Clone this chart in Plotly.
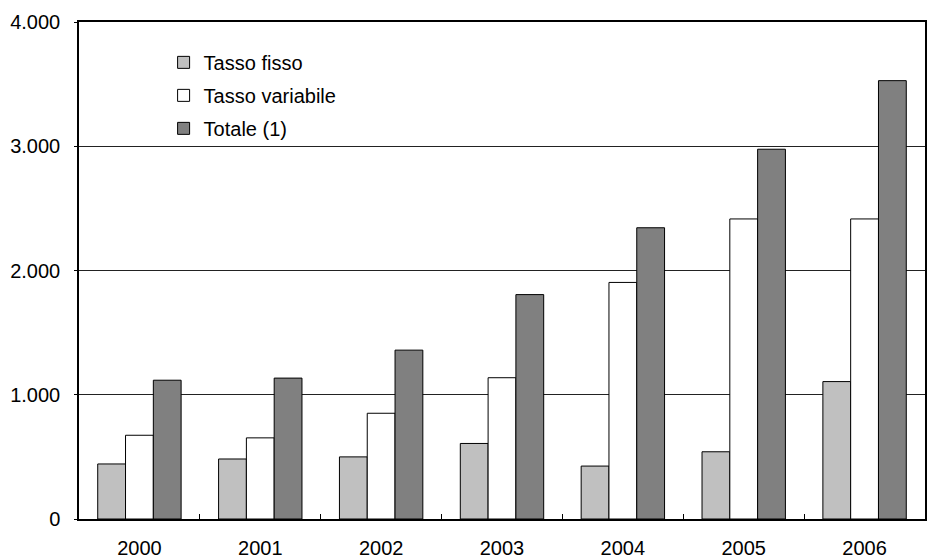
import plotly.graph_objects as go

years = ["2000", "2001", "2002", "2003", "2004", "2005", "2006"]
tasso_fisso = [443, 483, 500, 608, 426, 541, 1106]
tasso_variabile = [674, 653, 851, 1137, 1904, 2415, 2415]
totale = [1117, 1134, 1359, 1806, 2344, 2976, 3528]

series = [
    ("Tasso fisso", tasso_fisso, "#C0C0C0"),
    ("Tasso variabile", tasso_variabile, "#FFFFFF"),
    ("Totale (1)", totale, "#808080"),
]

fig = go.Figure()
for i, (name, vals, col) in enumerate(series):
    fig.add_trace(go.Bar(
        x=years, y=vals, name=name,
        marker=dict(color=col, line=dict(color="#000000", width=1)),
        legendgroup=f"g{i}",
    ))

font_family = "Liberation Sans, Arial, sans-serif"
fig.update_layout(
    width=935, height=558,
    margin=dict(l=79, r=10, t=22, b=39, autoexpand=False),
    paper_bgcolor="white", plot_bgcolor="white",
    barmode="group", bargap=0.31, bargroupgap=0,
    separators=",.",
    font=dict(family=font_family, size=20, color="#000000"),
    showlegend=True,
    legend=dict(
        x=0.1, y=0.958, xanchor="left", yanchor="top",
        bgcolor="rgba(0,0,0,0)", font=dict(size=20),
        tracegroupgap=4, itemwidth=30,
    ),
    xaxis=dict(
        type="category", automargin=False,
        showline=True, linecolor="#000000", linewidth=1.5, mirror=True,
        ticks="inside", tickson="boundaries", ticklen=5, tickcolor="#000000",
        showgrid=False, ticklabelstandoff=10,
    ),
    yaxis=dict(
        range=[0, 4000], dtick=1000, tickformat=",d", automargin=False,
        showline=True, linecolor="#000000", linewidth=1.5, mirror=True,
        ticks="outside", ticklen=3, tickcolor="#000000",
        showgrid=True, gridcolor="#222222", gridwidth=1,
        zeroline=False, ticklabelstandoff=10,
    ),
)

fig.write_html(
    "out.html",
    config={"displayModeBar": False},
    post_script="document.body.style.margin='0';document.body.style.overflow='hidden';",
)
